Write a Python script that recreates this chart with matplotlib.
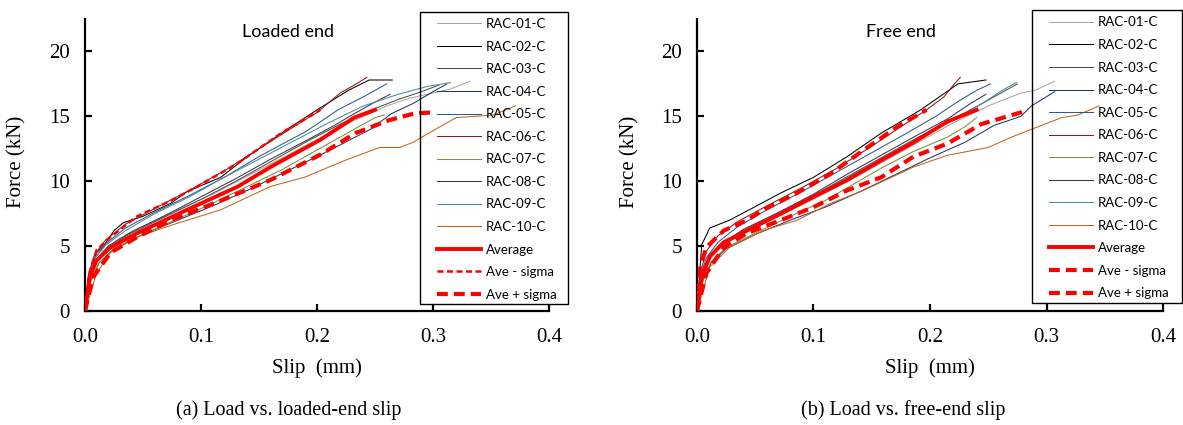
import matplotlib
matplotlib.use("Agg")
import matplotlib.pyplot as plt
from matplotlib.patches import Rectangle

# ---- loaded-end slip (mm) / force (kN) ----
le_x = {
    "RAC-01-C": [0, 0.003, 0.008, 0.015, 0.03, 0.05, 0.08, 0.11, 0.14, 0.17, 0.2, 0.23, 0.26, 0.28, 0.3, 0.315, 0.332],
    "RAC-02-C": [0, 0.004, 0.01, 0.016, 0.025, 0.033, 0.05, 0.074, 0.088, 0.117, 0.14, 0.166, 0.2, 0.227, 0.245, 0.265],
    "RAC-03-C": [0, 0.004, 0.01, 0.02, 0.04, 0.07, 0.1, 0.13, 0.16, 0.19, 0.22, 0.25, 0.27, 0.29, 0.305],
    "RAC-04-C": [0, 0.005, 0.012, 0.025, 0.05, 0.08, 0.11, 0.14, 0.17, 0.2, 0.22, 0.246, 0.264, 0.283, 0.3, 0.312],
    "RAC-05-C": [0, 0.003, 0.008, 0.018, 0.035, 0.06, 0.09, 0.12, 0.15, 0.175, 0.19, 0.205, 0.218, 0.24, 0.26],
    "RAC-06-C": [0, 0.003, 0.008, 0.018, 0.035, 0.06, 0.09, 0.12, 0.15, 0.18, 0.2, 0.22, 0.232, 0.243],
    "RAC-07-C": [0, 0.005, 0.012, 0.025, 0.05, 0.08, 0.11, 0.14, 0.17, 0.19, 0.21, 0.232, 0.25, 0.258],
    "RAC-08-C": [0, 0.004, 0.01, 0.02, 0.04, 0.07, 0.1, 0.13, 0.16, 0.19, 0.215, 0.232, 0.25, 0.263],
    "RAC-09-C": [0, 0.003, 0.008, 0.018, 0.035, 0.06, 0.09, 0.12, 0.15, 0.18, 0.21, 0.24, 0.27, 0.295, 0.315],
    "RAC-10-C": [0, 0.01, 0.022, 0.045, 0.074, 0.117, 0.16, 0.189, 0.224, 0.254, 0.271, 0.283, 0.3, 0.32, 0.352, 0.371],
}
le_y = {
    "RAC-01-C": [0, 2.2, 3.6, 4.6, 5.6, 6.5, 7.8, 9.0, 10.4, 11.8, 13.2, 14.6, 15.8, 16.4, 16.8, 17.1, 17.7],
    "RAC-02-C": [0, 2.9, 4.5, 5.0, 6.2, 6.8, 7.3, 8.3, 9.2, 10.3, 11.9, 13.5, 15.5, 17.0, 17.8, 17.8],
    "RAC-03-C": [0, 2.5, 3.9, 4.9, 6.0, 7.3, 8.6, 10.0, 11.5, 13.0, 14.4, 15.6, 16.3, 16.9, 17.4],
    "RAC-04-C": [0, 2.3, 3.7, 4.8, 5.9, 7.0, 8.1, 9.3, 10.6, 11.9, 12.8, 14.0, 15.2, 16.0, 16.9, 17.5],
    "RAC-05-C": [0, 2.6, 4.0, 5.2, 6.4, 7.6, 8.9, 10.3, 11.9, 13.1, 13.8, 14.7, 15.5, 16.5, 17.5],
    "RAC-06-C": [0, 2.8, 4.3, 5.5, 6.7, 7.9, 9.3, 10.8, 12.5, 14.2, 15.3, 16.8, 17.4, 18.0],
    "RAC-07-C": [0, 2.3, 3.7, 4.8, 5.9, 7.1, 8.3, 9.6, 10.9, 11.9, 12.9, 14.0, 14.9, 15.1],
    "RAC-08-C": [0, 2.5, 3.9, 5.0, 6.1, 7.4, 8.8, 10.2, 11.7, 13.1, 14.3, 15.2, 16.1, 16.7],
    "RAC-09-C": [0, 2.5, 4.0, 5.1, 6.2, 7.5, 8.8, 10.3, 11.7, 13.1, 14.5, 15.8, 16.7, 17.3, 17.6],
    "RAC-10-C": [0, 2.9, 4.5, 5.7, 6.6, 7.8, 9.6, 10.3, 11.6, 12.6, 12.6, 13.0, 13.9, 14.9, 15.1, 15.8],
}
le_avg_x = [0, 0.004, 0.01, 0.022, 0.045, 0.088, 0.132, 0.16, 0.203, 0.232, 0.25]
le_avg_y = [0, 2.6, 3.9, 4.9, 6.0, 7.8, 9.6, 11.1, 13.2, 14.9, 15.5]
le_lo_x = [0, 0.004, 0.01, 0.022, 0.045, 0.074, 0.097, 0.132, 0.169, 0.203]
le_lo_y = [0, 3.0, 4.7, 5.7, 7.3, 8.5, 9.6, 11.4, 13.7, 15.5]
le_hi_x = [0, 0.007, 0.022, 0.045, 0.074, 0.117, 0.16, 0.204, 0.233, 0.262, 0.283, 0.298]
le_hi_y = [0, 2.6, 4.5, 5.7, 7.0, 8.5, 10.1, 12.1, 13.7, 14.7, 15.2, 15.3]

# ---- free-end slip (mm) / force (kN) ----
fe_x = {
    "RAC-01-C": [0, 0.003, 0.009, 0.02, 0.04, 0.07, 0.1, 0.13, 0.16, 0.19, 0.22, 0.25, 0.278, 0.29, 0.307],
    "RAC-02-C": [0, 0.004, 0.011, 0.028, 0.047, 0.072, 0.1, 0.129, 0.158, 0.192, 0.224, 0.248],
    "RAC-03-C": [0, 0.004, 0.01, 0.02, 0.04, 0.07, 0.1, 0.13, 0.16, 0.19, 0.22, 0.245, 0.265, 0.275],
    "RAC-04-C": [0, 0.005, 0.012, 0.025, 0.05, 0.08, 0.11, 0.14, 0.17, 0.2, 0.23, 0.255, 0.278, 0.287, 0.298, 0.307],
    "RAC-05-C": [0, 0.003, 0.008, 0.018, 0.035, 0.06, 0.09, 0.12, 0.15, 0.18, 0.205, 0.225, 0.24, 0.252],
    "RAC-06-C": [0, 0.003, 0.008, 0.018, 0.035, 0.06, 0.09, 0.12, 0.15, 0.175, 0.197, 0.212, 0.22, 0.226],
    "RAC-07-C": [0, 0.005, 0.012, 0.025, 0.05, 0.08, 0.11, 0.129, 0.158, 0.186, 0.215, 0.23, 0.24],
    "RAC-08-C": [0, 0.004, 0.01, 0.02, 0.04, 0.07, 0.1, 0.13, 0.16, 0.19, 0.215, 0.235, 0.248],
    "RAC-09-C": [0, 0.003, 0.009, 0.02, 0.04, 0.07, 0.1, 0.13, 0.16, 0.19, 0.22, 0.245, 0.262, 0.274],
    "RAC-10-C": [0, 0.011, 0.028, 0.057, 0.086, 0.115, 0.143, 0.186, 0.215, 0.25, 0.27, 0.29, 0.313, 0.327, 0.345],
}
fe_y = {
    "RAC-01-C": [0, 2.4, 3.8, 4.9, 6.0, 7.3, 8.6, 10.0, 11.5, 13.0, 14.5, 15.8, 16.8, 17.0, 17.7],
    "RAC-02-C": [0, 5.1, 6.4, 7.0, 7.9, 9.1, 10.3, 11.9, 13.7, 15.5, 17.5, 17.8],
    "RAC-03-C": [0, 2.6, 4.0, 5.1, 6.2, 7.5, 8.9, 10.4, 11.9, 13.4, 14.8, 16.0, 17.0, 17.5],
    "RAC-04-C": [0, 2.3, 3.7, 4.8, 5.9, 7.0, 8.0, 9.2, 10.5, 11.8, 13.0, 14.3, 15.0, 15.8, 16.4, 16.9],
    "RAC-05-C": [0, 2.7, 4.1, 5.3, 6.5, 7.8, 9.2, 10.7, 12.2, 13.7, 15.0, 16.2, 17.0, 17.5],
    "RAC-06-C": [0, 3.0, 4.6, 5.8, 6.9, 8.1, 9.5, 11.0, 12.7, 14.2, 15.5, 16.5, 17.4, 18.0],
    "RAC-07-C": [0, 2.4, 3.8, 4.9, 6.0, 7.3, 8.5, 9.5, 11.0, 12.3, 13.4, 14.2, 14.9],
    "RAC-08-C": [0, 2.6, 4.0, 5.1, 6.3, 7.6, 9.0, 10.6, 12.1, 13.6, 14.8, 16.0, 16.7],
    "RAC-09-C": [0, 2.5, 3.9, 5.0, 6.1, 7.4, 8.8, 10.3, 11.8, 13.3, 14.7, 16.0, 17.0, 17.6],
    "RAC-10-C": [0, 3.4, 4.9, 6.2, 7.0, 8.3, 9.3, 11.1, 12.0, 12.6, 13.4, 14.1, 14.9, 15.1, 15.8],
}
fe_avg_x = [0, 0.004, 0.011, 0.023, 0.043, 0.072, 0.1, 0.129, 0.158, 0.186, 0.215, 0.24]
fe_avg_y = [0, 2.6, 4.2, 5.3, 6.2, 7.5, 8.8, 10.1, 11.6, 13.0, 14.6, 15.5]
fe_lo_x = [0, 0.003, 0.008, 0.023, 0.043, 0.057, 0.086, 0.115, 0.143, 0.172, 0.197]
fe_lo_y = [0, 3.5, 4.9, 6.2, 7.0, 7.8, 9.1, 10.6, 12.4, 14.2, 15.5]
fe_hi_x = [0, 0.008, 0.023, 0.043, 0.072, 0.1, 0.129, 0.158, 0.186, 0.215, 0.244, 0.278, 0.284]
fe_hi_y = [0, 2.9, 4.9, 6.0, 7.0, 8.0, 9.3, 10.3, 11.9, 12.9, 14.4, 15.3, 15.5]

colors = {
    "RAC-01-C": "#a6a6a6", "RAC-02-C": "#000000", "RAC-03-C": "#4f5043",
    "RAC-04-C": "#1f3864", "RAC-05-C": "#2e5b8a", "RAC-06-C": "#8b1a1a",
    "RAC-07-C": "#77933c", "RAC-08-C": "#3f3151", "RAC-09-C": "#4a8a9c",
    "RAC-10-C": "#c0651f",
}

serif = "Liberation Serif"
sans = "Lato"

fig = plt.figure(figsize=(11.83, 4.25), dpi=100)
W, H = 1183.0, 425.0


def panel(x0, x1, xs, ys, ax_, ay_, lx, ly, hx, hy, title, title_x, thin_lo, box, ylab_x):
    ax = fig.add_axes([x0 / W, 1 - 311 / H, (x1 - x0) / W, (311 - 19) / H])
    for name in xs:
        ax.plot(xs[name], ys[name], color=colors[name], lw=0.75, label=name)
    ax.plot(ax_, ay_, color="red", lw=2.8, label="Average", zorder=5)
    if thin_lo:
        ax.plot(lx, ly, color="red", lw=1.8, dashes=(2.4, 1.4), label="Ave - sigma", zorder=5)
    else:
        ax.plot(lx, ly, color="red", lw=3, dashes=(2.6, 1.45), label="Ave - sigma", zorder=5)
    ax.plot(hx, hy, color="red", lw=3, dashes=(2.6, 1.45), label="Ave + sigma", zorder=5)

    ax.set_xlim(0, 0.4)
    ax.set_ylim(0, 22.5)
    ax.set_xticks([0, 0.1, 0.2, 0.3, 0.4])
    ax.set_xticklabels(["0.0", "0.1", "0.2", "0.3", "0.4"])
    ax.set_yticks([0, 5, 10, 15, 20])
    for s in ["top", "right"]:
        ax.spines[s].set_visible(False)
    for s in ["left", "bottom"]:
        ax.spines[s].set_linewidth(1.6)
    ax.tick_params(direction="in", length=5, width=1.6, labelsize=15)
    ax.tick_params(axis="x", pad=12)
    ax.tick_params(axis="y", pad=11)
    for t in ax.get_xticklabels() + ax.get_yticklabels():
        t.set_fontfamily(serif)
    ax.set_xlabel("Slip  (mm)", fontsize=15, family=serif, labelpad=8)
    fig.text(ylab_x / W, 1 - 162 / H, "Force (kN)", rotation=90, ha="center", va="center",
             fontsize=15, family=serif)
    ax.text(title_x, 0.955, title, transform=ax.transAxes, ha="left", va="center",
            fontsize=13, family=sans)

    # legend entries sit inside an unfilled box, curves stay visible through it
    bx0, by0, bx1, by1 = box
    fig.add_artist(Rectangle((bx0 / W, 1 - by1 / H), (bx1 - bx0) / W, (by1 - by0) / H,
                             transform=fig.transFigure, fill=False, edgecolor="black",
                             lw=1.0, zorder=10))
    leg = ax.legend(loc="upper left", bbox_to_anchor=((bx0 + 17) / W, 1 - (by0 + 6.5) / H),
                    bbox_transform=fig.transFigure, borderaxespad=0, borderpad=0,
                    frameon=False, handlelength=3.3, handletextpad=0.4,
                    labelspacing=0.80, prop={"family": sans, "size": 9.5})
    leg.set_zorder(10)
    return ax


panel(85, 549, le_x, le_y, le_avg_x, le_avg_y, le_lo_x, le_lo_y, le_hi_x, le_hi_y,
      "Loaded end", 0.338, True, (420, 11.5, 568, 304), 17)
panel(697, 1163, fe_x, fe_y, fe_avg_x, fe_avg_y, fe_lo_x, fe_lo_y, fe_hi_x, fe_hi_y,
      "Free end", 0.363, False, (1032, 10, 1182, 303), 630)

fig.text(289 / W, 1 - 410 / H, "(a) Load vs. loaded-end slip", ha="center", va="center",
         fontsize=14.5, family=serif)
fig.text(903 / W, 1 - 410 / H, "(b) Load vs. free-end slip", ha="center", va="center",
         fontsize=14.5, family=serif)

fig.savefig("out.png", dpi=100)
